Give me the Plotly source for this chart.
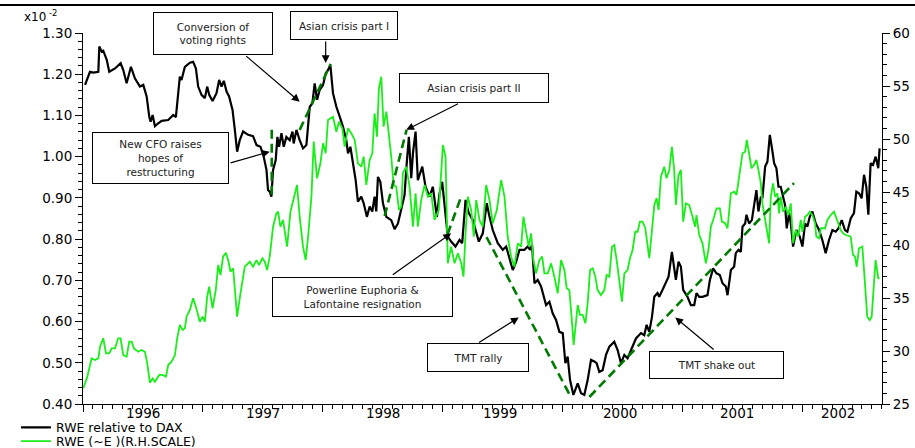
import plotly.graph_objects as go

# ---------------- data ----------------
# RWE relative to DAX (left scale, x10^-2), decimal-year positions
rel_year = [1996.017,1996.058,1996.086,1996.128,1996.136,1996.156,1996.169,1996.198,1996.219,1996.267,1996.314,1996.336,1996.364,1996.400,1996.433,1996.475,1996.503,1996.531,1996.553,1996.564,1996.581,1996.600,1996.628,1996.656,1996.711,1996.753,1996.775,1996.794,1996.808,1996.822,1996.850,1996.892,1996.919,1996.942,1996.961,1996.989,
            1997.017,1997.036,1997.053,1997.081,1997.114,1997.136,1997.156,1997.175,1997.198,1997.219,1997.248,1997.267,1997.286,1997.308,1997.336,1997.378,1997.419,1997.448,1997.481,1997.508,1997.531,1997.544,1997.558,1997.572,1997.586,1997.608,1997.622,1997.636,1997.656,1997.675,1997.697,1997.725,1997.748,1997.758,1997.781,1997.808,1997.836,1997.864,1997.892,1997.914,1997.933,1997.953,1997.975,
            1998.003,1998.025,1998.044,1998.064,1998.086,1998.114,1998.142,1998.169,1998.197,1998.211,1998.231,1998.253,1998.275,1998.294,1998.322,1998.342,1998.369,1998.392,1998.414,1998.433,1998.447,1998.461,1998.481,1998.503,1998.531,1998.572,1998.600,1998.628,1998.656,1998.683,1998.697,1998.719,1998.739,1998.753,1998.775,1998.794,1998.831,1998.858,1998.892,1998.919,1998.953,1998.975,1998.997,
            1999.017,1999.044,1999.072,1999.108,1999.142,1999.164,1999.192,1999.219,1999.253,1999.303,1999.336,1999.369,1999.392,1999.419,1999.461,1999.503,1999.531,1999.586,1999.614,1999.642,1999.683,1999.711,1999.731,1999.747,1999.767,1999.794,1999.822,1999.864,1999.892,1999.919,1999.947,1999.975,
            2000.003,2000.025,2000.044,2000.064,2000.092,2000.128,2000.156,2000.183,2000.211,2000.239,2000.267,2000.286,2000.308,2000.336,2000.364,2000.392,2000.433,2000.461,2000.489,2000.517,2000.544,2000.572,2000.614,2000.656,2000.683,2000.703,2000.725,2000.748,2000.767,2000.794,2000.808,2000.836,2000.858,2000.886,2000.914,2000.933,2000.947,2000.969,2000.989,
            2001.008,2001.044,2001.072,2001.100,2001.119,2001.142,2001.169,2001.211,2001.231,2001.258,2001.286,2001.314,2001.336,2001.364,2001.378,2001.406,2001.433,2001.447,2001.469,2001.489,2001.503,2001.525,2001.536,2001.558,2001.581,2001.600,2001.619,2001.636,2001.656,2001.669,2001.692,2001.711,2001.731,2001.747,2001.767,2001.786,2001.803,2001.822,2001.842,2001.858,2001.872,2001.892,2001.906,2001.925,2001.953,2001.981,
            2002.003,2002.025,2002.044,2002.064,2002.086,2002.114,2002.142,2002.169,2002.197,2002.225,2002.253,2002.281,2002.303,2002.331,2002.358,2002.378,2002.406,2002.433,2002.453,2002.475,2002.497,2002.517,2002.536,2002.553,2002.572,2002.592,2002.614,2002.636,2002.647]
rel_dax = [1.174,1.206,1.204,1.206,1.267,1.255,1.257,1.235,1.206,1.214,1.227,1.210,1.178,1.218,1.190,1.170,1.174,1.146,1.097,1.085,1.101,1.074,1.081,1.087,1.089,1.101,1.096,1.158,1.194,1.186,1.218,1.228,1.230,1.214,1.170,1.150,
           1.142,1.170,1.150,1.135,1.154,1.186,1.170,1.184,1.158,1.146,1.113,1.065,1.012,1.040,1.061,1.053,1.050,1.028,1.024,1.000,0.968,0.919,0.915,0.903,0.968,0.992,1.048,1.024,1.057,1.024,1.048,1.040,1.061,1.032,1.065,1.040,1.020,1.028,1.121,1.129,1.178,1.138,1.162,
           1.174,1.202,1.210,1.222,1.154,1.121,1.097,1.073,1.040,1.008,1.024,0.984,0.943,0.891,0.903,0.887,0.854,0.879,0.867,0.903,0.867,0.951,0.939,0.887,0.854,0.846,0.824,0.838,0.871,0.907,0.968,1.048,0.948,1.008,1.061,0.943,0.976,0.927,0.903,0.927,0.854,0.911,0.939,
           0.879,0.806,0.794,0.782,0.798,0.790,0.895,0.863,0.846,0.794,0.814,0.887,0.854,0.822,0.790,0.774,0.782,0.725,0.745,0.774,0.774,0.782,0.774,0.786,0.693,0.701,0.685,0.640,0.648,0.620,0.604,0.575,
           0.572,0.499,0.515,0.458,0.422,0.450,0.426,0.422,0.458,0.507,0.503,0.499,0.478,0.482,0.519,0.539,0.551,0.531,0.499,0.519,0.511,0.531,0.559,0.572,0.567,0.592,0.575,0.612,0.660,0.669,0.660,0.677,0.693,0.709,0.769,0.725,0.701,0.745,0.733,
           0.677,0.660,0.640,0.640,0.669,0.660,0.660,0.664,0.701,0.729,0.717,0.713,0.693,0.685,0.664,0.725,0.733,0.766,0.774,0.769,0.830,0.838,0.859,0.838,0.846,0.887,0.919,0.867,0.903,0.899,0.976,0.988,1.053,1.024,0.984,0.972,0.927,0.927,0.903,0.883,0.826,0.863,0.838,0.782,0.822,0.806,
           0.782,0.838,0.830,0.854,0.867,0.838,0.822,0.798,0.766,0.798,0.822,0.818,0.826,0.846,0.822,0.818,0.850,0.863,0.915,0.911,0.899,0.956,0.927,0.859,0.984,0.980,1.000,0.972,1.020]

# RWE share price in EUR (right scale)
px_year = [1996.003,1996.036,1996.072,1996.100,1996.128,1996.142,1996.169,1996.192,1996.219,1996.239,1996.267,1996.294,1996.314,1996.336,1996.364,1996.386,1996.406,1996.425,1996.461,1996.489,1996.517,1996.536,1996.558,1996.581,1996.600,1996.636,1996.664,1996.692,1996.711,1996.739,1996.767,1996.786,1996.808,1996.831,1996.850,1996.864,1996.892,1996.919,1996.942,1996.975,1996.997,
           1997.017,1997.036,1997.053,1997.081,1997.108,1997.128,1997.147,1997.169,1997.192,1997.211,1997.231,1997.253,1997.267,1997.286,1997.314,1997.350,1997.392,1997.419,1997.448,1997.469,1997.497,1997.517,1997.536,1997.558,1997.586,1997.614,1997.628,1997.647,1997.669,1997.703,1997.731,1997.758,1997.786,1997.808,1997.836,1997.858,1997.878,1997.906,1997.925,1997.953,1997.981,
           1998.003,1998.025,1998.044,1998.064,1998.086,1998.114,1998.136,1998.164,1998.183,1998.211,1998.239,1998.267,1998.294,1998.322,1998.342,1998.364,1998.392,1998.414,1998.433,1998.453,1998.469,1998.489,1998.508,1998.531,1998.553,1998.572,1998.592,1998.614,1998.636,1998.656,1998.669,1998.697,1998.725,1998.753,1998.775,1998.794,1998.822,1998.850,1998.878,1998.906,1998.933,1998.969,
           1999.003,1999.025,1999.044,1999.072,1999.100,1999.128,1999.156,1999.175,1999.192,1999.211,1999.239,1999.261,1999.281,1999.308,1999.336,1999.364,1999.392,1999.419,1999.453,1999.489,1999.517,1999.544,1999.572,1999.600,1999.628,1999.656,1999.675,1999.697,1999.719,1999.739,1999.758,1999.781,1999.808,1999.831,1999.850,1999.878,1999.906,1999.933,1999.961,1999.989,
           2000.017,2000.036,2000.058,2000.081,2000.094,2000.114,2000.128,2000.147,2000.169,2000.192,2000.211,2000.231,2000.253,2000.275,2000.294,2000.322,2000.350,2000.369,2000.392,2000.414,2000.433,2000.453,2000.475,2000.497,2000.517,2000.544,2000.564,2000.586,2000.608,2000.628,2000.647,2000.669,2000.692,2000.711,2000.725,2000.748,2000.767,2000.786,2000.803,2000.822,2000.850,2000.869,2000.892,2000.914,2000.933,2000.947,2000.969,2000.989,
           2001.008,2001.031,2001.058,2001.086,2001.108,2001.119,2001.142,2001.169,2001.197,2001.219,2001.239,2001.258,2001.286,2001.314,2001.331,2001.358,2001.378,2001.406,2001.433,2001.453,2001.475,2001.503,2001.525,2001.539,2001.558,2001.578,2001.600,2001.619,2001.636,2001.656,2001.669,2001.692,2001.711,2001.725,2001.739,2001.758,2001.775,2001.794,2001.808,2001.822,2001.842,2001.864,2001.886,2001.906,2001.925,2001.947,2001.969,2001.989,
           2002.003,2002.025,2002.044,2002.064,2002.086,2002.108,2002.119,2002.142,2002.156,2002.192,2002.211,2002.239,2002.267,2002.281,2002.303,2002.322,2002.342,2002.364,2002.406,2002.425,2002.442,2002.456,2002.475,2002.503,2002.517,2002.531,2002.544,2002.564,2002.581,2002.600,2002.614,2002.636,2002.647]
rwe_price = [26.48,27.58,29.31,29.15,29.31,30.41,31.20,29.78,29.78,30.25,30.25,31.20,31.20,29.62,29.46,30.88,30.88,30.25,29.93,30.09,29.93,28.84,27.01,27.42,27.10,27.74,27.74,27.58,28.68,28.99,29.62,31.20,32.45,31.98,32.14,33.24,33.87,34.97,34.18,32.76,33.24,
             32.76,35.12,36.07,34.03,35.75,38.11,37.17,38.90,39.27,38.58,37.48,37.80,35.44,33.24,35.44,37.95,38.42,37.95,38.58,38.11,38.75,38.42,37.64,38.90,41.73,42.99,43.14,41.73,42.36,39.84,43.14,44.25,45.66,42.67,39.84,38.58,40.78,44.56,49.75,46.29,47.71,
             49.59,48.65,51.79,51.95,52.10,50.69,51.63,51.01,49.27,51.01,50.54,49.91,47.71,47.39,48.33,45.66,48.02,48.65,52.42,50.22,54.78,55.88,51.16,52.58,50.54,48.33,45.66,45.50,43.30,43.61,46.76,47.39,45.50,41.73,44.88,41.73,44.25,45.66,44.56,44.88,42.36,43.30,
             49.43,48.33,38.27,39.84,38.27,39.22,38.27,37.01,41.10,44.56,43.30,40.78,44.25,42.36,41.73,45.66,44.25,42.05,43.30,46.13,44.56,40.78,38.90,37.95,40.16,39.84,42.67,41.42,39.84,41.10,38.58,37.33,38.58,38.90,37.33,37.33,38.27,37.01,35.44,38.58,
             37.64,35.92,35.75,32.61,30.57,32.76,34.34,33.40,33.40,32.61,34.50,37.64,37.80,37.01,35.75,35.28,35.75,37.17,37.01,39.84,40.00,38.58,36.39,34.65,37.33,37.64,38.75,39.53,41.25,41.25,42.20,42.20,41.58,40.16,38.75,41.42,43.77,44.41,43.30,46.44,47.39,46.29,47.08,49.27,47.08,43.77,46.60,47.08,
             42.20,43.93,43.77,42.67,41.73,42.83,40.94,40.16,38.27,39.53,41.73,42.36,43.46,43.46,42.20,42.05,41.58,44.88,45.03,44.72,46.44,48.65,48.80,49.91,48.65,47.24,47.55,48.02,47.08,45.82,43.93,42.36,41.10,40.16,44.56,45.82,44.56,44.88,42.99,44.56,43.14,43.61,42.83,43.93,40.16,41.42,40.78,42.36,
             41.25,42.67,42.83,43.14,42.83,42.05,40.78,40.63,41.58,41.58,42.36,42.83,43.14,42.67,42.05,41.42,41.10,40.94,40.78,39.06,38.90,37.95,39.69,39.84,37.64,35.12,33.24,32.92,33.24,36.39,38.58,36.86,36.86]

assert len(rel_year) == len(rel_dax), (len(rel_year), len(rel_dax))
assert len(px_year) == len(rwe_price), (len(px_year), len(rwe_price))

series_names = ["RWE relative to DAX", "RWE (~E )(R.H.SCALE)"]
year_ticks = [1996, 1997, 1998, 1999, 2000, 2001, 2002]
year_labels = ["1996", "1997", "1998", "1999", "2000", "2001", "2002"]
year_label_pos = [1996.5, 1997.5, 1998.5, 1999.48, 2000.48, 2001.46, 2002.3]
left_ticks = [0.40, 0.50, 0.60, 0.70, 0.80, 0.90, 1.00, 1.10, 1.20, 1.30]
right_ticks = [25, 30, 35, 40, 45, 50, 55, 60]

# event call-outs: text, box centre (paper), box size (px)
events = [
    ("Conversion of<br>voting rights", 0.1627, 0.9987, 118, 41),
    ("Asian crisis part I", 0.3267, 1.0202, 106, 27),
    ("Asian crisis part II", 0.4894, 0.8518, 148, 28),
    ("New CFO raises<br>hopes of<br>restructuring", 0.0970, 0.6631, 135, 50),
    ("Powerline Euphoria &<br>Lafontaine resignation", 0.3498, 0.2895, 179, 38),
    ("TMT rally", 0.4944, 0.1253, 100, 27),
    ("TMT shake out", 0.7928, 0.1040, 133, 26),
]
# arrows: (tail year, tail value, head year, head value) on left scale
arrows = [
    (1997.350, 1.247, 1997.808, 1.133),
    (1998.025, 1.283, 1998.025, 1.227),
    (1999.142, 1.130, 1998.697, 1.065),
    (1997.219, 0.984, 1997.558, 1.012),
    (1998.572, 0.711, 1999.072, 0.814),
    (1999.292, 0.547, 1999.636, 0.610),
    (2001.275, 0.529, 2000.942, 0.610),
]
# dashed trend guides (left scale)
trend_lines = [
    (1997.575, 1.065, 1997.575, 0.907),
    (1997.808, 1.065, 1998.067, 1.225),
    (1998.517, 0.856, 1998.700, 1.065),
    (1999.042, 0.812, 1999.158, 0.905),
    (1999.367, 0.805, 2000.067, 0.419),
    (2000.225, 0.417, 2001.933, 0.936),
]

FONT = "DejaVu Sans, Liberation Sans, Arial, sans-serif"
GREEN = "#1aee1a"
DKGREEN = "#007a00"

fig = go.Figure()
fig.add_trace(go.Scatter(x=px_year, y=rwe_price, mode="lines", name=series_names[1],
                         line=dict(color=GREEN, width=1.8), yaxis="y2", legend="legend2"))
fig.add_trace(go.Scatter(x=rel_year, y=rel_dax, mode="lines", name=series_names[0],
                         line=dict(color="black", width=2.2), yaxis="y", legend="legend"))

shapes = []
for x0, y0, x1, y1 in trend_lines:
    shapes.append(dict(type="line", xref="x", yref="y", x0=x0, y0=y0, x1=x1, y1=y1,
                       line=dict(color=DKGREEN, width=2.6, dash="9px,5px")))
shapes.append(dict(type="line", xref="paper", yref="paper", x0=-0.11, x1=1.05,
                   y0=1.0755, y1=1.0755, line=dict(color="black", width=2)))

annotations = []
for tx, ty, hx, hy in arrows:
    annotations.append(dict(x=hx, y=hy, xref="x", yref="y", ax=tx, ay=ty,
                            axref="x", ayref="y", text="", showarrow=True,
                            arrowhead=2, arrowsize=1.3, arrowwidth=1.2,
                            arrowcolor="black", standoff=0))
for text, xc, yc, w, h in events:
    annotations.append(dict(x=xc, y=yc, xref="paper", yref="paper", text=text,
                            showarrow=False, xanchor="center", yanchor="middle",
                            width=w, height=h, borderpad=0, align="center",
                            bgcolor="white", bordercolor="black", borderwidth=1,
                            font=dict(family=FONT, size=10.5, color="#222")))
for lbl, pos in zip(year_labels, year_label_pos):
    annotations.append(dict(x=pos, y=-0.024, xref="x", yref="paper", text=lbl,
                            showarrow=False, xanchor="center", yanchor="middle",
                            font=dict(family=FONT, size=13.5, color="black")))
annotations.append(dict(x=-0.076, y=1.045, xref="paper", yref="paper",
                        text="x10<sup> -2</sup>", showarrow=False,
                        xanchor="left", yanchor="middle",
                        font=dict(family=FONT, size=12, color="black")))

leg_common = dict(xanchor="left", yanchor="middle", bgcolor="rgba(0,0,0,0)",
                  font=dict(family=FONT, size=12.5, color="black"), itemwidth=30)

fig.update_layout(
    width=915, height=448,
    margin=dict(l=83, r=33, t=33, b=44, autoexpand=False),
    paper_bgcolor="white", plot_bgcolor="white",
    font=dict(family=FONT, size=14, color="black"),
    showlegend=True,
    legend=dict(x=-0.0839, y=-0.0640, **leg_common),
    legend2=dict(x=-0.0839, y=-0.1010, **leg_common),
    xaxis=dict(range=[1996, 2002.667], tickmode="array", tickvals=year_ticks,
               showticklabels=False, ticks="outside", ticklen=7, tickwidth=1,
               tickcolor="black", showline=True, linecolor="black", linewidth=1,
               showgrid=False, zeroline=False, automargin=False,
               minor=dict(tickmode="linear", tick0=1996, dtick=1/12, ticks="outside",
                          ticklen=4, tickcolor="black", showgrid=False)),
    yaxis=dict(range=[0.40, 1.30], tickmode="array", tickvals=left_ticks,
               tickformat=".2f", ticks="outside", ticklen=7, tickcolor="black",
               showline=True, linecolor="black", linewidth=1, showgrid=False,
               zeroline=False, tickfont=dict(size=13.5), automargin=False,
               minor=dict(tickmode="linear", tick0=0.40, dtick=0.02, ticks="outside",
                          ticklen=4, tickcolor="black", showgrid=False)),
    yaxis2=dict(range=[25, 60], overlaying="y", side="right", anchor="x",
                tickmode="array", tickvals=right_ticks, ticks="outside", ticklen=7,
                tickcolor="black", showline=True, linecolor="black", linewidth=1,
                showgrid=False, zeroline=False, tickfont=dict(size=13.5), automargin=False,
                minor=dict(tickmode="linear", tick0=25, dtick=1, ticks="outside",
                           ticklen=4, tickcolor="black", showgrid=False)),
    shapes=shapes,
    annotations=annotations,
)

fig.write_html("out.html", config={"displayModeBar": False},
               post_script="document.body.style.margin='0';document.body.style.padding='0';")
